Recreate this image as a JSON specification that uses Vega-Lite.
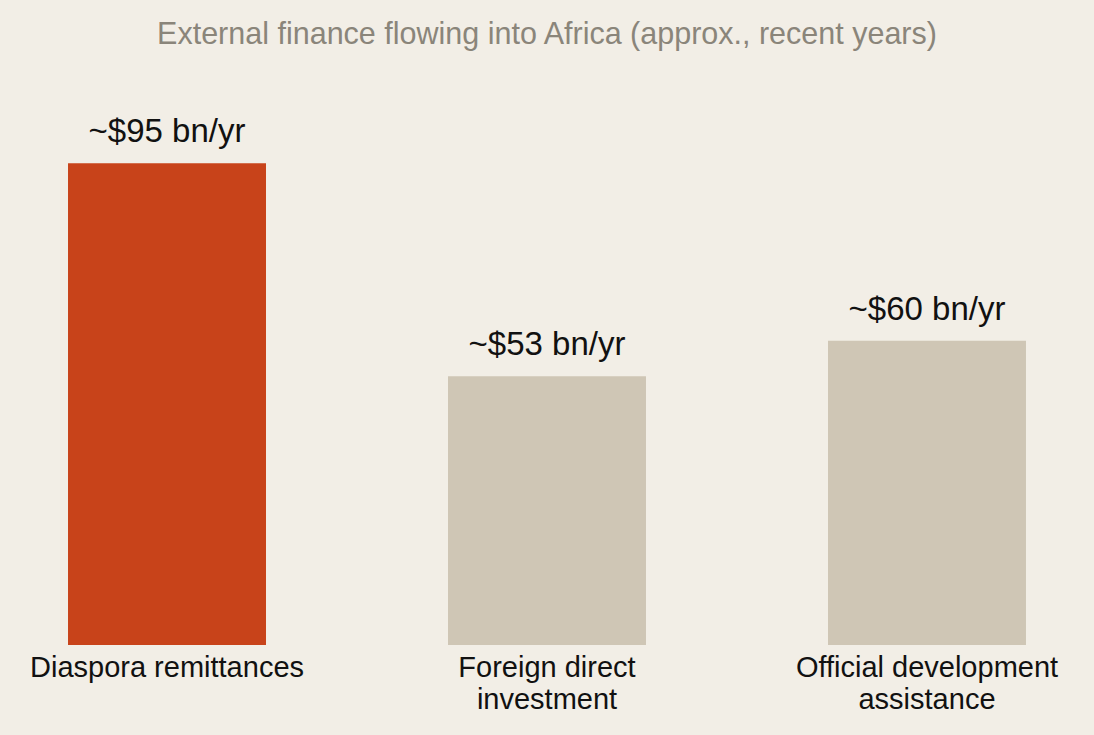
{
  "$schema": "https://vega.github.io/schema/vega-lite/v6.json",
  "autosize": "none",
  "width": 1094,
  "height": 507,
  "padding": {"top": 138, "left": 0, "right": 0, "bottom": 90},
  "background": "#f2eee6",
  "config": {
    "view": {"stroke": null},
    "font": "Liberation Sans"
  },
  "title": {
    "text": "External finance flowing into Africa (approx., recent years)",
    "anchor": "middle",
    "color": "#8a857a",
    "fontSize": 30.5,
    "fontWeight": "normal",
    "font": "Liberation Sans",
    "offset": 66
  },
  "data": {
    "values": [
      {"flow": "Diaspora remittances", "value": 95, "label": "~$95 bn/yr", "highlight": "yes"},
      {"flow": "Foreign direct investment", "value": 53, "label": "~$53 bn/yr", "highlight": "no"},
      {"flow": "Official development assistance", "value": 60, "label": "~$60 bn/yr", "highlight": "no"}
    ]
  },
  "encoding": {
    "x": {
      "field": "flow",
      "type": "nominal",
      "sort": null,
      "scale": {"paddingInner": 0.479, "paddingOuter": 0.179},
      "axis": {
        "title": null,
        "domain": false,
        "ticks": false,
        "labelAngle": 0,
        "labelFontSize": 29,
        "labelColor": "#111111",
        "labelPadding": 8,
        "labelLineHeight": 32,
        "labelLimit": 0,
        "labelExpr": "datum.value == 'Foreign direct investment' ? ['Foreign direct', 'investment'] : datum.value == 'Official development assistance' ? ['Official development', 'assistance'] : datum.value"
      }
    },
    "y": {
      "field": "value",
      "type": "quantitative",
      "scale": {"domain": [0, 100], "nice": false},
      "axis": null
    }
  },
  "layer": [
    {
      "mark": {"type": "bar"},
      "encoding": {
        "color": {
          "field": "highlight",
          "type": "nominal",
          "scale": {"domain": ["yes", "no"], "range": ["#c8431a", "#cfc6b5"]},
          "legend": null
        }
      }
    },
    {
      "mark": {"type": "text", "baseline": "bottom", "dy": -14, "fontSize": 33, "color": "#111111"},
      "encoding": {"text": {"field": "label"}}
    }
  ]
}
